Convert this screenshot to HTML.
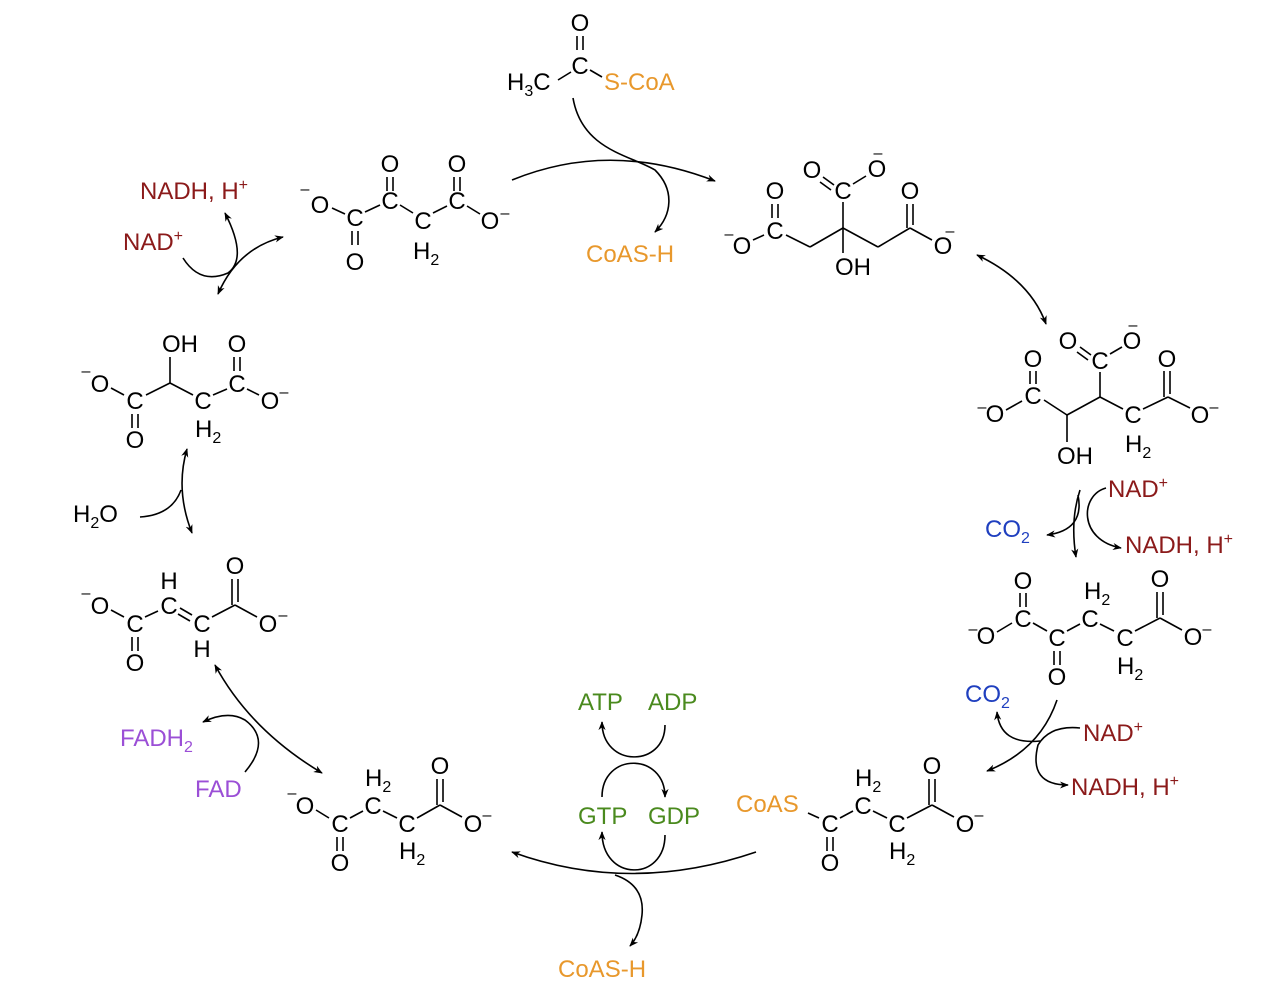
<!DOCTYPE html>
<html><head><meta charset="utf-8"><style>
html,body{margin:0;padding:0;background:#fff}
svg{display:block}
text{font-family:"Liberation Sans",sans-serif;font-size:24px;fill:#000}
.a{text-anchor:middle}
.s{font-size:16px}
.r{fill:#8b1a1a}.o{fill:#e8982c}.b{fill:#1f3fbf}.g{fill:#4a8a1e}.p{fill:#9b4fd6}
line,path{stroke:#000;stroke-width:1.6;fill:none}
</style></head><body>
<svg width="1280" height="1006" viewBox="0 0 1280 1006" xmlns="http://www.w3.org/2000/svg">
<defs>
<marker id="ah" viewBox="0 0 10 10" refX="9" refY="5" markerWidth="9" markerHeight="9" orient="auto-start-reverse" markerUnits="userSpaceOnUse"><path d="M0,1 L10,5 L0,9 L3,5 Z" style="fill:#000;stroke:none"/></marker>
</defs>

<!-- Acetyl-CoA -->
<text class="a" x="580" y="31">O</text>
<line x1="577" y1="36" x2="577" y2="50"/><line x1="583" y1="36" x2="583" y2="50"/>
<text class="a" x="580" y="74">C</text>
<text x="507" y="90">H<tspan class="s" dy="6">3</tspan><tspan dy="-6">C</tspan></text>
<text x="604" y="90" class="o">S-CoA</text>
<line x1="558" y1="80" x2="571" y2="72"/><line x1="590" y1="70" x2="602" y2="77"/>

<!-- Oxaloacetate -->
<text class="a" x="320" y="213">O</text><text class="a s" x="305" y="194">–</text>
<text class="a" x="355" y="226">C</text>
<text class="a" x="355" y="270">O</text>
<line x1="352" y1="231" x2="352" y2="245"/><line x1="358" y1="231" x2="358" y2="245"/>
<text class="a" x="390" y="209">C</text>
<text class="a" x="390" y="172">O</text>
<line x1="387" y1="177" x2="387" y2="191"/><line x1="393" y1="177" x2="393" y2="191"/>
<text class="a" x="423" y="229">C</text>
<text x="413" y="259">H<tspan class="s" dy="6">2</tspan></text>
<text class="a" x="457" y="209">C</text>
<text class="a" x="457" y="172">O</text>
<line x1="454" y1="177" x2="454" y2="191"/><line x1="460" y1="177" x2="460" y2="191"/>
<text class="a" x="490" y="229">O</text><text class="a s" x="505" y="218">–</text>
<line x1="332" y1="208" x2="345" y2="214"/><line x1="365" y1="212" x2="380" y2="205"/>
<line x1="400" y1="205" x2="413" y2="213"/><line x1="433" y1="213" x2="447" y2="206"/>
<line x1="467" y1="206" x2="480" y2="214"/>

<!-- Citrate -->
<text class="a" x="742" y="254">O</text><text class="a s" x="729" y="239">–</text>
<text class="a" x="775" y="239">C</text>
<text class="a" x="775" y="199">O</text>
<line x1="772" y1="204" x2="772" y2="218"/><line x1="778" y1="204" x2="778" y2="218"/>
<line x1="753" y1="240" x2="764" y2="235"/>
<line x1="786" y1="235" x2="810" y2="247"/><line x1="810" y1="247" x2="843" y2="228"/>
<line x1="843" y1="228" x2="878" y2="247"/><line x1="878" y1="247" x2="910" y2="228"/>
<line x1="843" y1="228" x2="843" y2="253"/>
<text class="a" x="853" y="275">OH</text>
<line x1="843" y1="228" x2="843" y2="202"/>
<text class="a" x="843" y="199">C</text>
<text class="a" x="812" y="178">O</text>
<line x1="834" y1="185" x2="823" y2="177"/><line x1="831" y1="190" x2="820" y2="182"/>
<text class="a" x="877" y="177">O</text><text class="a s" x="878" y="158">–</text>
<line x1="853" y1="184" x2="866" y2="176"/>
<text class="a" x="910" y="199">O</text>
<line x1="907" y1="204" x2="907" y2="228"/><line x1="913" y1="204" x2="913" y2="225"/>
<line x1="910" y1="228" x2="932" y2="240"/>
<text class="a" x="943" y="254">O</text><text class="a s" x="950" y="236">–</text>

<!-- Isocitrate -->
<text class="a" x="995" y="422">O</text><text class="a s" x="982" y="412">–</text>
<text class="a" x="1033" y="404">C</text>
<text class="a" x="1033" y="367">O</text>
<line x1="1030" y1="371" x2="1030" y2="384"/><line x1="1036" y1="371" x2="1036" y2="384"/>
<line x1="1006" y1="410" x2="1022" y2="401"/>
<line x1="1044" y1="400" x2="1067" y2="415"/><line x1="1067" y1="415" x2="1100" y2="397"/>
<line x1="1067" y1="415" x2="1067" y2="442"/>
<text class="a" x="1075" y="464">OH</text>
<line x1="1100" y1="397" x2="1100" y2="372"/>
<text class="a" x="1100" y="369">C</text>
<text class="a" x="1068" y="349">O</text>
<line x1="1091" y1="355" x2="1080" y2="347"/><line x1="1088" y1="360" x2="1077" y2="352"/>
<text class="a" x="1132" y="349">O</text><text class="a s" x="1133" y="330">–</text>
<line x1="1110" y1="354" x2="1122" y2="347"/>
<line x1="1100" y1="397" x2="1123" y2="409"/>
<text class="a" x="1133" y="423">C</text>
<text x="1125" y="452">H<tspan class="s" dy="6">2</tspan></text>
<line x1="1143" y1="409" x2="1168" y2="397"/>
<text class="a" x="1167" y="367">O</text>
<line x1="1164" y1="371" x2="1164" y2="397"/><line x1="1170" y1="371" x2="1170" y2="394"/>
<line x1="1168" y1="397" x2="1190" y2="408"/>
<text class="a" x="1200" y="423">O</text><text class="a s" x="1214" y="412">–</text>

<!-- alpha-ketoglutarate -->
<text class="a" x="986" y="644">O</text><text class="a s" x="973" y="634">–</text>
<text class="a" x="1023" y="627">C</text>
<text class="a" x="1023" y="589">O</text>
<line x1="1020" y1="593" x2="1020" y2="607"/><line x1="1026" y1="593" x2="1026" y2="607"/>
<text class="a" x="1057" y="646">C</text>
<text class="a" x="1057" y="685">O</text>
<line x1="1054" y1="651" x2="1054" y2="665"/><line x1="1060" y1="651" x2="1060" y2="665"/>
<text class="a" x="1090" y="627">C</text>
<text x="1084" y="599">H<tspan class="s" dy="6">2</tspan></text>
<text class="a" x="1125" y="646">C</text>
<text x="1117" y="674">H<tspan class="s" dy="6">2</tspan></text>
<text class="a" x="1160" y="587">O</text>
<line x1="1157" y1="592" x2="1157" y2="618"/><line x1="1163" y1="592" x2="1163" y2="615"/>
<text class="a" x="1193" y="645">O</text><text class="a s" x="1207" y="634">–</text>
<line x1="997" y1="632" x2="1012" y2="623"/><line x1="1033" y1="623" x2="1047" y2="631"/>
<line x1="1067" y1="631" x2="1080" y2="624"/><line x1="1100" y1="624" x2="1114" y2="631"/>
<line x1="1135" y1="631" x2="1160" y2="618"/><line x1="1160" y1="618" x2="1182" y2="630"/>

<!-- Succinyl-CoA -->
<text x="736" y="812" class="o">CoAS</text>
<text class="a" x="830" y="832">C</text>
<text class="a" x="830" y="871">O</text>
<line x1="827" y1="837" x2="827" y2="851"/><line x1="833" y1="837" x2="833" y2="851"/>
<text class="a" x="863" y="814">C</text>
<text x="855" y="786">H<tspan class="s" dy="6">2</tspan></text>
<text class="a" x="897" y="832">C</text>
<text x="889" y="859">H<tspan class="s" dy="6">2</tspan></text>
<text class="a" x="932" y="774">O</text>
<line x1="929" y1="779" x2="929" y2="805"/><line x1="935" y1="779" x2="935" y2="802"/>
<text class="a" x="965" y="832">O</text><text class="a s" x="979" y="820">–</text>
<line x1="808" y1="813" x2="819" y2="818"/><line x1="840" y1="818" x2="853" y2="811"/>
<line x1="873" y1="811" x2="887" y2="818"/><line x1="907" y1="818" x2="932" y2="805"/>
<line x1="932" y1="805" x2="954" y2="817"/>

<!-- Succinate -->
<text class="a" x="305" y="814">O</text><text class="a s" x="292" y="798">–</text>
<text class="a" x="340" y="832">C</text>
<text class="a" x="340" y="871">O</text>
<line x1="337" y1="837" x2="337" y2="851"/><line x1="343" y1="837" x2="343" y2="851"/>
<text class="a" x="373" y="814">C</text>
<text x="365" y="786">H<tspan class="s" dy="6">2</tspan></text>
<text class="a" x="407" y="832">C</text>
<text x="399" y="859">H<tspan class="s" dy="6">2</tspan></text>
<text class="a" x="440" y="774">O</text>
<line x1="437" y1="779" x2="437" y2="805"/><line x1="443" y1="779" x2="443" y2="802"/>
<text class="a" x="473" y="832">O</text><text class="a s" x="487" y="820">–</text>
<line x1="316" y1="810" x2="329" y2="818"/><line x1="350" y1="818" x2="363" y2="811"/>
<line x1="383" y1="811" x2="397" y2="818"/><line x1="417" y1="818" x2="440" y2="805"/>
<line x1="440" y1="805" x2="462" y2="817"/>

<!-- Fumarate -->
<text class="a" x="100" y="614">O</text><text class="a s" x="86" y="598">–</text>
<text class="a" x="135" y="632">C</text>
<text class="a" x="135" y="671">O</text>
<line x1="132" y1="637" x2="132" y2="651"/><line x1="138" y1="637" x2="138" y2="651"/>
<text class="a" x="169" y="614">C</text>
<text class="a" x="169" y="589">H</text>
<text class="a" x="202" y="632">C</text>
<text class="a" x="202" y="657">H</text>
<text class="a" x="235" y="574">O</text>
<line x1="232" y1="579" x2="232" y2="605"/><line x1="238" y1="579" x2="238" y2="602"/>
<text class="a" x="268" y="632">O</text><text class="a s" x="283" y="620">–</text>
<line x1="111" y1="610" x2="124" y2="617"/><line x1="145" y1="617" x2="158" y2="611"/>
<line x1="180" y1="608" x2="192" y2="615"/><line x1="178" y1="614" x2="190" y2="621"/>
<line x1="212" y1="617" x2="235" y2="605"/><line x1="235" y1="605" x2="257" y2="617"/>

<!-- Malate -->
<text class="a" x="100" y="392">O</text><text class="a s" x="86" y="376">–</text>
<text class="a" x="135" y="409">C</text>
<text class="a" x="135" y="448">O</text>
<line x1="132" y1="414" x2="132" y2="428"/><line x1="138" y1="414" x2="138" y2="428"/>
<line x1="170" y1="383" x2="170" y2="357"/>
<text class="a" x="180" y="352">OH</text>
<text class="a" x="203" y="409">C</text>
<text x="195" y="437">H<tspan class="s" dy="6">2</tspan></text>
<text class="a" x="237" y="392">C</text>
<text class="a" x="237" y="352">O</text>
<line x1="234" y1="357" x2="234" y2="371"/><line x1="240" y1="357" x2="240" y2="371"/>
<text class="a" x="270" y="409">O</text><text class="a s" x="284" y="397">–</text>
<line x1="111" y1="388" x2="124" y2="395"/><line x1="146" y1="395" x2="170" y2="383"/>
<line x1="170" y1="383" x2="193" y2="395"/><line x1="213" y1="395" x2="227" y2="389"/>
<line x1="247" y1="389" x2="259" y2="395"/>

<!-- Cofactor labels -->
<text x="140" y="199" class="r">NADH, H<tspan class="s" dy="-9">+</tspan></text>
<text x="123" y="250" class="r">NAD<tspan class="s" dy="-9">+</tspan></text>
<text x="73" y="522">H<tspan class="s" dy="6">2</tspan><tspan dy="-6">O</tspan></text>
<text x="120" y="746" class="p">FADH<tspan class="s" dy="6">2</tspan></text>
<text x="195" y="797" class="p">FAD</text>
<text x="586" y="262" class="o">CoAS-H</text>
<text x="558" y="977" class="o">CoAS-H</text>
<text x="578" y="710" class="g">ATP</text>
<text x="648" y="710" class="g">ADP</text>
<text x="578" y="824" class="g">GTP</text>
<text x="648" y="824" class="g">GDP</text>
<text x="1108" y="497" class="r">NAD<tspan class="s" dy="-9">+</tspan></text>
<text x="985" y="537" class="b">CO<tspan class="s" dy="6">2</tspan></text>
<text x="1125" y="553" class="r">NADH, H<tspan class="s" dy="-9">+</tspan></text>
<text x="965" y="702" class="b">CO<tspan class="s" dy="6">2</tspan></text>
<text x="1083" y="741" class="r">NAD<tspan class="s" dy="-9">+</tspan></text>
<text x="1071" y="795" class="r">NADH, H<tspan class="s" dy="-9">+</tspan></text>

<!-- Arrows -->
<path d="M512,180 Q610,140 715,181" marker-end="url(#ah)"/>
<path d="M573,98 C582,150 630,155 655,170 C675,190 672,215 655,232" marker-end="url(#ah)"/>
<path d="M977,255 Q1030,280 1046,324" marker-start="url(#ah)" marker-end="url(#ah)"/>
<path d="M1080,490 Q1070,520 1076,557" marker-end="url(#ah)"/>
<path d="M1078,495 Q1085,530 1047,535" marker-end="url(#ah)"/>
<path d="M1106,488 C1080,495 1078,540 1121,548" marker-end="url(#ah)"/>
<path d="M1057,700 Q1040,750 987,771" marker-end="url(#ah)"/>
<path d="M1040,741 Q1000,745 997,712" marker-end="url(#ah)"/>
<path d="M1080,728 Q1050,725 1038,745 Q1028,785 1068,785" marker-end="url(#ah)"/>
<path d="M756,852 Q630,895 512,852" marker-end="url(#ah)"/>
<path d="M615,875 Q645,885 642,915 Q640,935 630,946" marker-end="url(#ah)"/>
<path d="M665,725 C665,768 602,768 602,722" marker-end="url(#ah)"/>
<path d="M602,797 C602,752 665,752 665,797" marker-end="url(#ah)"/>
<path d="M665,835 C665,882 602,882 602,832" marker-end="url(#ah)"/>
<path d="M322,773 Q250,730 215,665" marker-start="url(#ah)" marker-end="url(#ah)"/>
<path d="M245,772 Q272,740 245,720 Q228,710 203,722" marker-end="url(#ah)"/>
<path d="M187,449 Q175,490 192,533" marker-start="url(#ah)" marker-end="url(#ah)"/>
<path d="M140,517 Q172,515 181,490"/>
<path d="M218,294 Q238,248 283,237" marker-start="url(#ah)" marker-end="url(#ah)"/>
<path d="M183,258 Q200,285 228,273 Q248,258 225,213" marker-end="url(#ah)"/>
</svg>
</body></html>
